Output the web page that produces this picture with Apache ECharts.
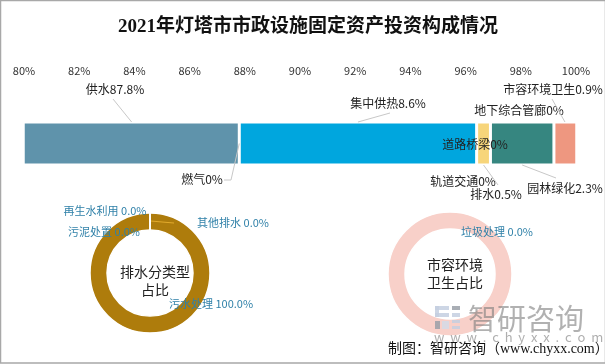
<!DOCTYPE html>
<html><head><meta charset="utf-8">
<style>html,body{margin:0;padding:0;background:#fff}#c{width:605px;height:364px}</style>
<script src="https://cdn.jsdelivr.net/npm/echarts@6/dist/echarts.min.js"></script></head>
<body><div id="c"></div><script>
const tickMin = 80, tickMax = 100, tickStep = 2;
const barNames = ['供水','燃气','集中供热','道路桥梁','轨道交通','排水','地下综合管廊','园林绿化','市容环境卫生','其他'];
const barValues = [87.8,0,8.6,0,0,0.5,0,2.3,0.9,0];
const barColors = ['#5f93ab','#8a9a5b','#00a6de','#c9a227','#7aa6c2','#f7d57a','#5b8e7d','#368680','#ee9780','#ee9780'];
const drainNames = ['污水处理','再生水利用','污泥处置','其他排水'];
const drainValues = [100,0,0,0];
const sanitNames = ['垃圾处理'];
const sanitValues = [0];
const FONT = '"Noto Sans CJK SC","Liberation Sans",sans-serif';
const SERIF = '"Liberation Serif","Noto Sans CJK SC",serif';
const barLabelPos = {
 '供水':[115,89],'燃气':[202,179],'集中供热':[388,103],'道路桥梁':[475,144],
 '轨道交通':[463,181],'排水':[496,194],'地下综合管廊':[519,110],'园林绿化':[565,188],
 '市容环境卫生':[553,89],'其他':[575,144]
};
const pieLabelPos = {
 '污水处理':[211,304],'再生水利用':[105,211],'污泥处置':[104,232],'其他排水':[233,223],'垃圾处理':[497,232]
};
// leader lines: segment name, which edge of the bar they start from, then the free points
const leaders = [
 ['供水','top',[[113,99]]],
 ['燃气','mid',[[231,180],[224,180]]],
 ['集中供热','top',[[390,113]]],
 ['排水','bottom',[[498,185]]],
 ['园林绿化','bottom',[[556,178]]],
 ['市容环境卫生','top',[[552,99]]]
];
const chart = echarts.init(document.getElementById('c'),null,{renderer:'canvas'});
const barSeries = barNames.map((n,i)=>({
  type:'bar',name:n,stack:'a',barWidth:'100%',
  data:[barValues[i]],
  itemStyle:{color:barColors[i],borderColor:'#fff',borderWidth:barValues[i]>0?1.5:0},
  label:{show:true,position:'inside',color:'#222',fontSize:12,fontFamily:FONT,
    formatter:()=>n+barValues[i]+'%'},
  labelLayout:()=>({x:barLabelPos[n][0],y:barLabelPos[n][1],align:'center',verticalAlign:'middle'})
}));
function pie(names,values,center,radius,color){
  return {type:'pie',center:center,radius:radius,startAngle:90,stillShowZeroSum:true,
    avoidLabelOverlap:false,silent:true,
    data:names.map((n,i)=>({name:n,value:values[i]})),
    itemStyle:{color:color,borderColor:'#fff',borderWidth:1.5},
    label:{show:true,position:'outside',color:'#2f80a8',fontSize:11,fontFamily:FONT,
      formatter:p=>p.name+' '+p.value.toFixed(1)+'%'},
    labelLine:{show:false},
    labelLayout:p=>{const k=pieLabelPos[names[p.dataIndex]];return {x:k[0],y:k[1],align:'center',verticalAlign:'middle'};}
  };
}
const logo=[[435,306,14,4,'#c4cfe0'],[435,313,14,4,'#c4cfe0'],[435,306,4,11,'#c4cfe0'],[435,321,5,8,'#9aa0a8'],[442,321,7,8,'#d5dbe6'],
 [452,306,8,4,'#9aa0a8'],[452,313,8,4,'#c4cfe0'],[452,320,8,3,'#c4cfe0'],[452,326,8,3,'#c4cfe0']];
const staticGraphic = [
  ...logo.map(r=>({type:'rect',silent:true,z:50,shape:{x:r[0],y:r[1],width:r[2],height:r[3]},style:{fill:r[4],opacity:.85}})),
  {type:'text',z:50,silent:true,style:{x:468,y:304,text:'智研咨询',fill:'rgba(125,125,125,.6)',fontSize:29,fontFamily:FONT}},
  {type:'text',z:50,silent:true,style:{x:434,y:331,text:'w  w  w  .  c  h  y  x  x  .  c  o  m',fill:'rgba(130,130,130,.65)',fontSize:13,fontFamily:FONT}},
  {type:'text',z:60,silent:true,style:{x:388,y:342,text:'制图：智研咨询（www.chyxx.com）',fill:'#111',fontSize:14,fontFamily:SERIF}},
  {type:'polyline',z:40,silent:true,shape:{points:[[151,221],[162,222],[174,223]]},style:{fill:'none',stroke:'#e2aa2c',lineWidth:1}},
  {type:'rect',z:70,silent:true,shape:{x:0.5,y:0.5,width:605,height:362.5},style:{fill:'none',stroke:'#a8a8a8',lineWidth:1.5}}
];
chart.setOption({
 animation:false,backgroundColor:'#fff',
 title:[
  {text:'2021年灯塔市市政设施固定资产投资构成情况',left:303,top:13,textAlign:'center',
   textStyle:{fontFamily:SERIF,fontSize:19,fontWeight:'bold',color:'#111'}},
  {text:'排水分类型\n占比',left:150,top:258,textAlign:'center',
   textStyle:{fontFamily:FONT,fontSize:14,fontWeight:'normal',color:'#222',lineHeight:18}},
  {text:'市容环境\n卫生占比',left:450,top:251,textAlign:'center',
   textStyle:{fontFamily:FONT,fontSize:14,fontWeight:'normal',color:'#222',lineHeight:18}}
 ],
 grid:{left:24,right:29,top:122,height:43},
 xAxis:{type:'value',position:'top',min:tickMin,max:tickMax,interval:tickStep,
   axisLine:{show:false},axisTick:{show:false},splitLine:{show:false},
   axisLabel:{margin:46,color:'#333',fontSize:11,fontFamily:FONT,formatter:'{value}%'}},
 yAxis:{type:'category',data:['构成'],show:false},
 series:[...barSeries,
   pie(drainNames,drainValues,[150,273],[43,60],'#ae7c0c'),
   pie(sanitNames,sanitValues,[450,274],[45,62],'#f8d0c9')]
});
// leader lines start at the middle of the visible part of their own segment, through the chart's own scale
const gridEdges = {top:122,mid:143.5,bottom:165};
const leaderGraphic = leaders.map(([name,edge,pts])=>{
  const i = barNames.indexOf(name);
  const sum = barValues.slice(0,i).reduce((a,b)=>a+b,0);
  const start = Math.max(sum,tickMin);
  const end = Math.min(sum+barValues[i],tickMax);
  const px = chart.convertToPixel({xAxisIndex:0},(start+end)/2);
  return {type:'polyline',z:40,silent:true,shape:{points:[[px,gridEdges[edge]],...pts]},
    style:{fill:'none',stroke:'#c8c8c8',lineWidth:1}};
});
chart.setOption({graphic:[...staticGraphic,...leaderGraphic]});
</script></body></html>
